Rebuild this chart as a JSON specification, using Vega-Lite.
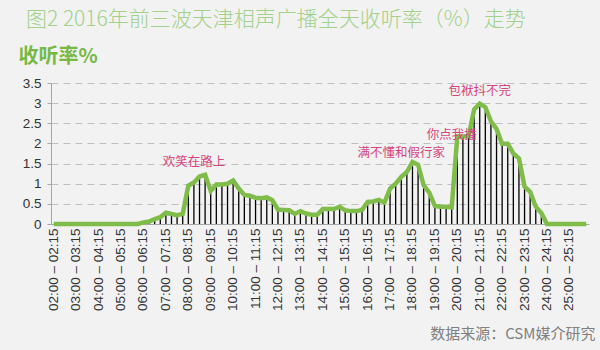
{
  "$schema": "https://vega.github.io/schema/vega-lite/v6.json",
  "width": 538,
  "height": 141,
  "autosize": {"type": "none"},
  "padding": {"left": 51, "top": 83, "right": 11, "bottom": 126},
  "background": "#f2f2f2",
  "title": {
    "text": "图2 2016年前三波天津相声广播全天收听率（%）走势",
    "anchor": "start",
    "frame": "group",
    "dx": -25,
    "offset": 16,
    "fontSize": 21,
    "font": "Noto Sans CJK SC",
    "fontWeight": 300,
    "color": "#a3d08a"
  },
  "config": {
    "view": {"stroke": null},
    "axis": {"labelFont": "Liberation Sans", "labelColor": "#333333", "titleFont": "Noto Sans CJK SC"}
  },
  "datasets": {
    "main": [
      {"t": "02:00 – 02:15", "v": 0}, {"t": "02:15 – 02:30", "v": 0}, {"t": "02:30 – 02:45", "v": 0}, {"t": "02:45 – 03:00", "v": 0},
      {"t": "03:00 – 03:15", "v": 0}, {"t": "03:15 – 03:30", "v": 0}, {"t": "03:30 – 03:45", "v": 0}, {"t": "03:45 – 04:00", "v": 0},
      {"t": "04:00 – 04:15", "v": 0}, {"t": "04:15 – 04:30", "v": 0}, {"t": "04:30 – 04:45", "v": 0}, {"t": "04:45 – 05:00", "v": 0},
      {"t": "05:00 – 05:15", "v": 0}, {"t": "05:15 – 05:30", "v": 0}, {"t": "05:30 – 05:45", "v": 0}, {"t": "05:45 – 06:00", "v": 0},
      {"t": "06:00 – 06:15", "v": 0.04}, {"t": "06:15 – 06:30", "v": 0.06}, {"t": "06:30 – 06:45", "v": 0.12}, {"t": "06:45 – 07:00", "v": 0.17},
      {"t": "07:00 – 07:15", "v": 0.28}, {"t": "07:15 – 07:30", "v": 0.25}, {"t": "07:30 – 07:45", "v": 0.22}, {"t": "07:45 – 08:00", "v": 0.25},
      {"t": "08:00 – 08:15", "v": 0.95}, {"t": "08:15 – 08:30", "v": 1.03}, {"t": "08:30 – 08:45", "v": 1.18}, {"t": "08:45 – 09:00", "v": 1.22},
      {"t": "09:00 – 09:15", "v": 0.82}, {"t": "09:15 – 09:30", "v": 0.98}, {"t": "09:30 – 09:45", "v": 0.98}, {"t": "09:45 – 10:00", "v": 1.0},
      {"t": "10:00 – 10:15", "v": 1.08}, {"t": "10:15 – 10:30", "v": 0.88}, {"t": "10:30 – 10:45", "v": 0.72}, {"t": "10:45 – 11:00", "v": 0.7},
      {"t": "11:00 – 11:15", "v": 0.65}, {"t": "11:15 – 11:30", "v": 0.64}, {"t": "11:30 – 11:45", "v": 0.66}, {"t": "11:45 – 12:00", "v": 0.59},
      {"t": "12:00 – 12:15", "v": 0.36}, {"t": "12:15 – 12:30", "v": 0.35}, {"t": "12:30 – 12:45", "v": 0.34}, {"t": "12:45 – 13:00", "v": 0.25},
      {"t": "13:00 – 13:15", "v": 0.32}, {"t": "13:15 – 13:30", "v": 0.26}, {"t": "13:30 – 13:45", "v": 0.23}, {"t": "13:45 – 14:00", "v": 0.23},
      {"t": "14:00 – 14:15", "v": 0.37}, {"t": "14:15 – 14:30", "v": 0.37}, {"t": "14:30 – 14:45", "v": 0.37}, {"t": "14:45 – 15:00", "v": 0.43},
      {"t": "15:00 – 15:15", "v": 0.34}, {"t": "15:15 – 15:30", "v": 0.32}, {"t": "15:30 – 15:45", "v": 0.32}, {"t": "15:45 – 16:00", "v": 0.35},
      {"t": "16:00 – 16:15", "v": 0.55}, {"t": "16:15 – 16:30", "v": 0.56}, {"t": "16:30 – 16:45", "v": 0.6}, {"t": "16:45 – 17:00", "v": 0.53},
      {"t": "17:00 – 17:15", "v": 0.88}, {"t": "17:15 – 17:30", "v": 1.0}, {"t": "17:30 – 17:45", "v": 1.17}, {"t": "17:45 – 18:00", "v": 1.29},
      {"t": "18:00 – 18:15", "v": 1.54}, {"t": "18:15 – 18:30", "v": 1.47}, {"t": "18:30 – 18:45", "v": 0.96}, {"t": "18:45 – 19:00", "v": 0.78},
      {"t": "19:00 – 19:15", "v": 0.45}, {"t": "19:15 – 19:30", "v": 0.43}, {"t": "19:30 – 19:45", "v": 0.43}, {"t": "19:45 – 20:00", "v": 0.41},
      {"t": "20:00 – 20:15", "v": 2.17}, {"t": "20:15 – 20:30", "v": 2.17}, {"t": "20:30 – 20:45", "v": 2.18}, {"t": "20:45 – 21:00", "v": 2.84},
      {"t": "21:00 – 21:15", "v": 2.99}, {"t": "21:15 – 21:30", "v": 2.9}, {"t": "21:30 – 21:45", "v": 2.55}, {"t": "21:45 – 22:00", "v": 2.36},
      {"t": "22:00 – 22:15", "v": 1.99}, {"t": "22:15 – 22:30", "v": 1.99}, {"t": "22:30 – 22:45", "v": 1.75}, {"t": "22:45 – 23:00", "v": 1.63},
      {"t": "23:00 – 23:15", "v": 0.93}, {"t": "23:15 – 23:30", "v": 0.8}, {"t": "23:30 – 23:45", "v": 0.43}, {"t": "23:45 – 24:00", "v": 0.27},
      {"t": "24:00 – 24:15", "v": 0}, {"t": "24:15 – 24:30", "v": 0}, {"t": "24:30 – 24:45", "v": 0}, {"t": "24:45 – 25:00", "v": 0},
      {"t": "25:00 – 25:15", "v": 0}, {"t": "25:15 – 25:30", "v": 0}, {"t": "25:30 – 25:45", "v": 0}, {"t": "25:45 – 26:00", "v": 0}
    ],
    "notes": [
      {"t": "08:15 – 08:30", "v": 1.54, "label": "欢笑在路上"},
      {"t": "17:30 – 17:45", "v": 1.76, "label": "满不懂和假行家"},
      {"t": "19:45 – 20:00", "v": 2.21, "label": "你点我播"},
      {"t": "21:00 – 21:15", "v": 3.29, "label": "包袱抖不完"}
    ]
  },
  "data": {"name": "main"},
  "encoding": {
    "y": {
      "field": "v",
      "type": "quantitative",
      "scale": {"domain": [0, 3.5], "nice": false},
      "axis": {
        "values": [0, 0.5, 1, 1.5, 2, 2.5, 3, 3.5],
        "tickCount": 8,
        "format": "~g",
        "labelOverlap": false,
        "labelFontSize": 13.5,
        "labelPadding": 6,
        "tickSize": 4,
        "tickColor": "#a6a6a6",
        "domainColor": "#a6a6a6",
        "grid": true,
        "gridColor": "#c0c0c0",
        "gridDash": [7, 5],
        "title": "收听率%",
        "titleAngle": 0,
        "titleAlign": "left",
        "titleBaseline": "middle",
        "titleX": -33,
        "titleY": -27,
        "titleFontSize": 20,
        "titleFontWeight": "bold",
        "titleColor": "#78b843"
      }
    }
  },
  "layer": [
    {
      "mark": {"type": "bar", "size": 1.3, "color": "#000000"},
      "encoding": {
        "x": {
          "field": "t",
          "type": "nominal",
          "sort": null,
          "scale": {"paddingInner": 0, "paddingOuter": 0},
          "axis": {
            "values": ["02:00 – 02:15", "03:00 – 03:15", "04:00 – 04:15", "05:00 – 05:15", "06:00 – 06:15", "07:00 – 07:15", "08:00 – 08:15", "09:00 – 09:15", "10:00 – 10:15", "11:00 – 11:15", "12:00 – 12:15", "13:00 – 13:15", "14:00 – 14:15", "15:00 – 15:15", "16:00 – 16:15", "17:00 – 17:15", "18:00 – 18:15", "19:00 – 19:15", "20:00 – 20:15", "21:00 – 21:15", "22:00 – 22:15", "23:00 – 23:15", "24:00 – 24:15", "25:00 – 25:15"],
            "labelAngle": 270,
            "labelFontSize": 13.5,
            "labelPadding": 4,
            "labelOverlap": false,
            "ticks": false,
            "domainColor": "#a6a6a6",
            "grid": false,
            "title": "数据来源：CSM媒介研究",
            "titleX": 544,
            "titleY": 109,
            "titleAlign": "right",
            "titleBaseline": "middle",
            "titleFontSize": 15,
            "titleFontWeight": "normal",
            "titleColor": "#808080"
          }
        }
      }
    },
    {
      "mark": {"type": "line", "color": "#80bc4a", "strokeWidth": 4.5},
      "encoding": {
        "x": {"field": "t", "type": "nominal", "sort": null, "bandPosition": 0.5}
      }
    },
    {
      "data": {"name": "notes"},
      "mark": {"type": "text", "color": "#d6467c", "fontSize": 12.5, "font": "Noto Sans CJK SC", "baseline": "middle", "align": "center"},
      "encoding": {
        "x": {"field": "t", "type": "nominal", "sort": null, "bandPosition": 0.5},
        "text": {"field": "label"}
      }
    }
  ]
}
